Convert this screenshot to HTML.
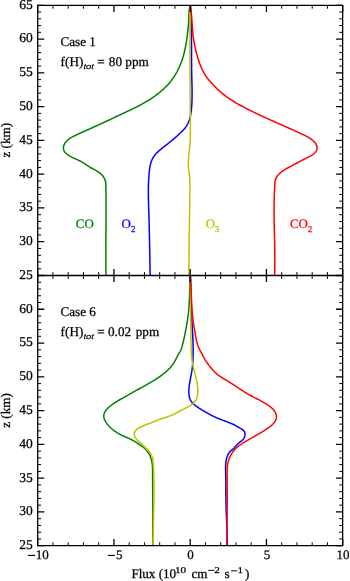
<!DOCTYPE html>
<html><head><meta charset="utf-8"><style>
html,body{margin:0;padding:0;background:#fff;}
body{width:350px;height:581px;overflow:hidden;font-family:"Liberation Serif",serif;}
svg{display:block;}
text{-webkit-font-smoothing:antialiased;text-rendering:geometricPrecision;}
svg{will-change:transform;}
</style></head><body>
<svg width="350" height="581" viewBox="0 0 350 581"><defs><clipPath id="ct"><rect x="37.70" y="5.30" width="304.95" height="270.20"/></clipPath><clipPath id="cb"><rect x="37.70" y="275.50" width="304.95" height="270.20"/></clipPath></defs><g clip-path="url(#ct)"><path d="M190.10 5.30L189.86 6.27 189.65 7.25 189.48 8.24 189.33 9.22 189.21 10.21 189.12 11.20 189.04 12.19 188.98 13.19 188.94 14.19 188.90 15.19 188.87 16.18 188.84 17.18 188.81 18.18 188.78 19.18 188.74 20.18 188.69 21.18 188.64 22.17 188.57 23.17 188.50 24.16 188.42 25.15 188.34 26.15 188.24 27.14 188.14 28.13 188.04 29.12 187.93 30.11 187.81 31.10 187.70 32.09 187.57 33.08 187.45 34.07 187.32 35.06 187.19 36.05 187.05 37.04 186.91 38.03 186.77 39.02 186.63 40.01 186.48 40.99 186.32 41.98 186.17 42.97 186.00 43.95 185.83 44.94 185.65 45.92 185.47 46.90 185.28 47.88 185.08 48.86 184.87 49.83 184.66 50.81 184.43 51.78 184.20 52.75 183.95 53.71 183.70 54.68 183.43 55.64 183.16 56.60 182.87 57.55 182.58 58.50 182.27 59.45 181.95 60.39 181.62 61.33 181.28 62.27 180.93 63.20 180.56 64.13 180.19 65.05 179.80 65.97 179.40 66.88 178.99 67.79 178.56 68.69 178.13 69.59 177.68 70.48 177.22 71.37 176.74 72.25 176.25 73.12 175.75 73.99 175.24 74.85 174.71 75.70 174.18 76.54 173.62 77.38 173.06 78.20 172.48 79.02 171.89 79.82 171.29 80.62 170.67 81.40 170.05 82.17 169.41 82.94 168.76 83.69 168.09 84.43 167.42 85.17 166.74 85.89 166.04 86.60 165.34 87.31 164.63 88.00 163.90 88.69 163.17 89.37 162.43 90.03 161.68 90.69 160.93 91.34 160.16 91.99 159.39 92.62 158.61 93.25 157.83 93.86 157.03 94.47 156.23 95.07 155.43 95.67 154.62 96.25 153.81 96.83 152.99 97.40 152.16 97.97 151.34 98.52 150.50 99.07 149.66 99.62 148.82 100.15 147.98 100.68 147.12 101.20 146.27 101.71 145.41 102.21 144.55 102.71 143.68 103.20 142.81 103.69 141.94 104.16 141.06 104.63 140.18 105.10 139.29 105.56 138.41 106.01 137.52 106.46 136.63 106.91 135.73 107.35 134.84 107.79 133.94 108.23 133.05 108.67 132.15 109.10 131.25 109.53 130.35 109.96 129.45 110.39 128.54 110.82 127.64 111.25 126.74 111.67 125.84 112.10 124.94 112.53 124.04 112.96 123.13 113.39 122.23 113.82 121.33 114.24 120.43 114.67 119.52 115.10 118.62 115.52 117.72 115.95 116.82 116.38 115.91 116.80 115.01 117.23 114.11 117.65 113.20 118.08 112.30 118.50 111.39 118.93 110.49 119.35 109.59 119.77 108.68 120.20 107.78 120.62 106.87 121.04 105.97 121.46 105.06 121.88 104.16 122.30 103.25 122.72 102.35 123.14 101.44 123.56 100.53 123.98 99.63 124.39 98.72 124.81 97.81 125.22 96.91 125.64 96.00 126.05 95.09 126.47 94.19 126.88 93.28 127.29 92.37 127.70 91.46 128.11 90.55 128.52 89.65 128.93 88.74 129.33 87.83 129.74 86.92 130.15 86.01 130.55 85.10 130.95 84.19 131.36 83.28 131.76 82.37 132.16 81.46 132.56 80.55 132.96 79.64 133.37 78.73 133.78 77.83 134.20 76.93 134.63 76.03 135.06 75.13 135.51 74.23 135.96 73.34 136.43 72.46 136.91 71.58 137.41 70.71 137.93 69.85 138.47 69.01 139.04 68.21 139.64 67.44 140.27 66.71 140.95 66.04 141.67 65.42 142.44 64.86 143.27 64.37 144.15 63.97 145.09 63.66 146.05 63.46 147.03 63.39 148.01 63.46 148.98 63.68 149.92 64.06 150.81 64.58 151.66 65.22 152.45 65.94 153.20 66.70 153.89 67.49 154.53 68.31 155.13 69.14 155.68 69.99 156.20 70.86 156.69 71.74 157.15 72.63 157.59 73.53 158.02 74.44 158.44 75.35 158.85 76.26 159.26 77.18 159.68 78.08 160.10 78.99 160.54 79.89 160.99 80.78 161.45 81.66 161.92 82.52 162.41 83.38 162.92 84.22 163.44 85.05 163.98 85.87 164.53 86.69 165.08 87.51 165.63 88.33 166.18 89.17 166.71 90.01 167.24 90.88 167.74 91.76 168.24 92.65 168.72 93.54 169.20 94.43 169.69 95.32 170.17 96.20 170.67 97.07 171.18 97.93 171.70 98.76 172.25 99.56 172.83 100.34 173.44 101.08 174.09 101.79 174.77 102.45 175.50 103.06 176.28 103.63 177.11 104.13 177.97 104.58 178.87 104.96 179.79 105.27 180.74 105.51 181.71 105.68 182.69 105.77 183.69 105.83 184.69 105.85 185.69 105.87 186.69 105.89 187.70 105.90 188.70 105.92 189.70 105.93 190.70 105.94 191.71 105.95 192.71 105.97 193.71 105.98 194.71 105.99 195.71 105.99 196.71 106.00 197.71 106.01 198.71 106.01 199.71 106.02 200.71 106.02 201.71 106.03 202.71 106.03 203.71 106.03 204.70 106.04 205.70 106.04 206.70 106.04 207.70 106.04 208.69 106.04 209.69 106.04 210.69 106.04 211.68 106.03 212.68 106.03 213.68 106.03 214.67 106.03 215.67 106.02 216.67 106.02 217.66 106.01 218.66 106.01 219.65 106.01 220.65 106.00 221.64 105.99 222.64 105.99 223.63 105.98 224.63 105.98 225.62 105.97 226.62 105.97 227.61 105.96 228.61 105.95 229.60 105.95 230.60 105.94 231.59 105.93 232.59 105.93 233.58 105.92 234.58 105.91 235.57 105.91 236.57 105.90 237.56 105.89 238.56 105.89 239.55 105.88 240.55 105.88 241.55 105.87 242.54 105.87 243.54 105.86 244.53 105.86 245.53 105.85 246.52 105.85 247.52 105.84 248.52 105.84 249.51 105.84 250.51 105.83 251.51 105.83 252.50 105.83 253.50 105.83 254.50 105.83 255.49 105.83 256.49 105.83 257.49 105.83 258.49 105.83 259.49 105.83 260.48 105.83 261.48 105.84 262.48 105.84 263.48 105.85 264.48 105.85 265.48 105.86 266.48 105.86 267.48 105.87 268.48 105.88 269.49 105.89 270.49 105.90 271.49 105.91 272.49 105.92 273.49 105.94 274.50 105.95 275.50" fill="none" stroke="#008000" stroke-width="1.50" stroke-linejoin="round"/><path d="M190.41 5.30L190.48 6.30 190.55 7.29 190.61 8.29 190.67 9.28 190.73 10.28 190.79 11.28 190.84 12.27 190.89 13.27 190.94 14.27 190.98 15.26 191.03 16.26 191.07 17.26 191.10 18.25 191.14 19.25 191.17 20.25 191.21 21.25 191.24 22.24 191.26 23.24 191.29 24.24 191.32 25.23 191.34 26.23 191.36 27.23 191.38 28.23 191.40 29.22 191.41 30.22 191.43 31.22 191.44 32.22 191.46 33.21 191.47 34.21 191.48 35.21 191.49 36.21 191.50 37.21 191.50 38.20 191.51 39.20 191.52 40.20 191.52 41.20 191.53 42.19 191.53 43.19 191.53 44.19 191.54 45.19 191.54 46.19 191.54 47.18 191.54 48.18 191.55 49.18 191.55 50.18 191.55 51.18 191.55 52.17 191.55 53.17 191.55 54.17 191.56 55.17 191.56 56.17 191.56 57.16 191.56 58.16 191.57 59.16 191.57 60.16 191.58 61.16 191.58 62.15 191.59 63.15 191.60 64.15 191.60 65.15 191.61 66.15 191.62 67.14 191.63 68.14 191.64 69.14 191.66 70.14 191.67 71.14 191.69 72.13 191.70 73.13 191.72 74.13 191.74 75.13 191.76 76.13 191.79 77.12 191.81 78.12 191.83 79.12 191.86 80.12 191.88 81.12 191.91 82.11 191.93 83.11 191.96 84.11 191.98 85.11 192.00 86.11 192.02 87.10 192.04 88.10 192.05 89.10 192.07 90.10 192.08 91.09 192.08 92.09 192.09 93.09 192.09 94.08 192.09 95.08 192.08 96.08 192.07 97.08 192.05 98.07 192.03 99.07 192.01 100.07 191.97 101.06 191.94 102.06 191.89 103.05 191.84 104.05 191.78 105.05 191.72 106.04 191.64 107.04 191.55 108.03 191.46 109.03 191.35 110.02 191.24 111.01 191.11 112.00 190.96 112.99 190.80 113.98 190.63 114.96 190.43 115.94 190.21 116.92 189.96 117.88 189.69 118.84 189.39 119.79 189.05 120.73 188.69 121.66 188.30 122.58 187.87 123.48 187.41 124.37 186.92 125.23 186.40 126.08 185.84 126.91 185.26 127.71 184.65 128.49 184.01 129.26 183.34 130.00 182.66 130.73 181.97 131.44 181.25 132.14 180.53 132.83 179.80 133.52 179.07 134.20 178.33 134.87 177.59 135.54 176.85 136.21 176.10 136.87 175.35 137.53 174.60 138.18 173.84 138.83 173.08 139.48 172.32 140.12 171.55 140.75 170.78 141.39 170.01 142.01 169.23 142.64 168.45 143.26 167.67 143.88 166.88 144.49 166.10 145.11 165.31 145.72 164.52 146.33 163.73 146.94 162.94 147.55 162.16 148.17 161.38 148.80 160.61 149.44 159.84 150.08 159.09 150.74 158.34 151.41 157.61 152.10 156.89 152.80 156.20 153.52 155.53 154.26 154.89 155.02 154.29 155.81 153.72 156.62 153.20 157.46 152.71 158.32 152.27 159.21 151.86 160.11 151.50 161.03 151.16 161.97 150.86 162.92 150.59 163.88 150.36 164.85 150.14 165.82 149.96 166.81 149.79 167.79 149.64 168.78 149.51 169.78 149.39 170.77 149.28 171.77 149.18 172.77 149.09 173.76 149.00 174.76 148.92 175.76 148.84 176.75 148.77 177.75 148.71 178.75 148.65 179.74 148.60 180.74 148.55 181.74 148.51 182.73 148.48 183.73 148.45 184.73 148.42 185.73 148.40 186.72 148.38 187.72 148.37 188.72 148.36 189.71 148.35 190.71 148.35 191.71 148.35 192.70 148.36 193.70 148.36 194.70 148.37 195.69 148.39 196.69 148.40 197.69 148.42 198.68 148.44 199.68 148.47 200.68 148.49 201.68 148.52 202.67 148.54 203.67 148.57 204.67 148.60 205.66 148.63 206.66 148.67 207.66 148.70 208.66 148.73 209.65 148.76 210.65 148.80 211.65 148.83 212.64 148.86 213.64 148.89 214.64 148.93 215.64 148.96 216.63 148.99 217.63 149.02 218.63 149.04 219.63 149.07 220.62 149.10 221.62 149.13 222.62 149.15 223.62 149.18 224.61 149.20 225.61 149.23 226.61 149.25 227.61 149.28 228.61 149.30 229.60 149.32 230.60 149.34 231.60 149.37 232.60 149.39 233.60 149.41 234.59 149.43 235.59 149.45 236.59 149.47 237.59 149.49 238.58 149.51 239.58 149.53 240.58 149.55 241.58 149.57 242.58 149.58 243.57 149.60 244.57 149.62 245.57 149.64 246.57 149.66 247.57 149.68 248.56 149.69 249.56 149.71 250.56 149.73 251.56 149.75 252.56 149.77 253.55 149.78 254.55 149.80 255.55 149.82 256.55 149.84 257.54 149.86 258.54 149.87 259.54 149.89 260.54 149.91 261.54 149.93 262.53 149.95 263.53 149.97 264.53 149.99 265.53 150.01 266.52 150.03 267.52 150.05 268.52 150.07 269.52 150.09 270.51 150.11 271.51 150.14 272.51 150.16 273.50 150.18 274.50 150.21 275.50" fill="none" stroke="#0000ff" stroke-width="1.50" stroke-linejoin="round"/><path d="M190.12 5.30L190.11 6.30 190.10 7.30 190.09 8.29 190.08 9.29 190.07 10.29 190.06 11.29 190.05 12.28 190.04 13.28 190.03 14.28 190.03 15.28 190.02 16.27 190.01 17.27 190.00 18.27 190.00 19.27 189.99 20.26 189.99 21.26 189.98 22.26 189.98 23.26 189.97 24.26 189.97 25.25 189.96 26.25 189.96 27.25 189.96 28.25 189.96 29.24 189.95 30.24 189.95 31.24 189.95 32.24 189.95 33.23 189.94 34.23 189.94 35.23 189.94 36.23 189.94 37.23 189.94 38.22 189.94 39.22 189.94 40.22 189.94 41.22 189.94 42.21 189.94 43.21 189.94 44.21 189.94 45.21 189.95 46.21 189.95 47.20 189.95 48.20 189.95 49.20 189.95 50.20 189.96 51.19 189.96 52.19 189.96 53.19 189.96 54.19 189.97 55.18 189.97 56.18 189.97 57.18 189.98 58.18 189.98 59.18 189.99 60.17 189.99 61.17 189.99 62.17 190.00 63.17 190.00 64.16 190.01 65.16 190.01 66.16 190.02 67.16 190.02 68.16 190.03 69.15 190.03 70.15 190.04 71.15 190.04 72.15 190.05 73.14 190.06 74.14 190.06 75.14 190.07 76.14 190.07 77.14 190.08 78.13 190.09 79.13 190.09 80.13 190.10 81.13 190.10 82.12 190.11 83.12 190.12 84.12 190.12 85.12 190.13 86.11 190.14 87.11 190.14 88.11 190.15 89.11 190.16 90.11 190.17 91.10 190.17 92.10 190.18 93.10 190.19 94.10 190.19 95.09 190.20 96.09 190.21 97.09 190.21 98.09 190.22 99.08 190.23 100.08 190.23 101.08 190.24 102.08 190.25 103.07 190.25 104.07 190.26 105.07 190.27 106.07 190.27 107.07 190.28 108.06 190.29 109.06 190.29 110.06 190.30 111.06 190.31 112.05 190.31 113.05 190.32 114.05 190.33 115.05 190.33 116.04 190.34 117.04 190.34 118.04 190.35 119.04 190.36 120.03 190.36 121.03 190.37 122.03 190.37 123.03 190.38 124.02 190.38 125.02 190.39 126.02 190.39 127.02 190.40 128.01 190.40 129.01 190.40 130.01 190.40 131.01 190.39 132.00 190.38 133.00 190.37 134.00 190.36 134.99 190.34 135.99 190.31 136.99 190.28 137.98 190.25 138.98 190.21 139.98 190.16 140.97 190.11 141.97 190.05 142.97 189.98 143.96 189.90 144.96 189.82 145.95 189.72 146.95 189.62 147.94 189.52 148.94 189.41 149.93 189.29 150.93 189.18 151.92 189.07 152.92 188.96 153.91 188.86 154.91 188.76 155.90 188.66 156.90 188.58 157.89 188.50 158.88 188.44 159.88 188.39 160.87 188.36 161.87 188.34 162.86 188.34 163.85 188.36 164.85 188.40 165.84 188.45 166.84 188.52 167.83 188.61 168.82 188.70 169.82 188.81 170.81 188.92 171.80 189.03 172.79 189.15 173.79 189.27 174.78 189.39 175.77 189.50 176.76 189.60 177.75 189.69 178.75 189.77 179.74 189.83 180.74 189.88 181.73 189.91 182.73 189.94 183.72 189.96 184.72 189.97 185.71 189.97 186.71 189.97 187.71 189.96 188.70 189.95 189.70 189.94 190.70 189.92 191.70 189.91 192.69 189.89 193.69 189.88 194.69 189.86 195.69 189.84 196.68 189.83 197.68 189.81 198.68 189.80 199.68 189.78 200.68 189.76 201.67 189.75 202.67 189.73 203.67 189.71 204.67 189.70 205.66 189.68 206.66 189.67 207.66 189.65 208.66 189.63 209.65 189.62 210.65 189.60 211.65 189.59 212.65 189.57 213.65 189.55 214.64 189.54 215.64 189.52 216.64 189.51 217.64 189.49 218.63 189.47 219.63 189.46 220.63 189.44 221.63 189.43 222.62 189.41 223.62 189.40 224.62 189.38 225.62 189.37 226.62 189.35 227.61 189.34 228.61 189.32 229.61 189.31 230.61 189.29 231.60 189.28 232.60 189.27 233.60 189.25 234.60 189.24 235.59 189.22 236.59 189.21 237.59 189.20 238.59 189.18 239.59 189.17 240.58 189.16 241.58 189.14 242.58 189.13 243.58 189.12 244.57 189.11 245.57 189.10 246.57 189.09 247.57 189.07 248.56 189.06 249.56 189.05 250.56 189.04 251.56 189.03 252.55 189.02 253.55 189.01 254.55 189.00 255.55 188.99 256.54 188.99 257.54 188.98 258.54 188.97 259.54 188.96 260.53 188.96 261.53 188.95 262.53 188.94 263.53 188.94 264.52 188.93 265.52 188.93 266.52 188.92 267.52 188.92 268.52 188.91 269.51 188.91 270.51 188.91 271.51 188.90 272.51 188.90 273.50 188.90 274.50 188.90 275.50" fill="none" stroke="#bfbf00" stroke-width="1.50" stroke-linejoin="round"/><path d="M190.33 5.30L190.49 6.28 190.63 7.27 190.77 8.25 190.90 9.24 191.02 10.23 191.13 11.22 191.24 12.21 191.33 13.20 191.42 14.19 191.51 15.19 191.59 16.18 191.67 17.18 191.74 18.17 191.81 19.17 191.88 20.17 191.94 21.16 192.01 22.16 192.07 23.16 192.14 24.15 192.20 25.15 192.27 26.15 192.34 27.14 192.41 28.14 192.49 29.13 192.57 30.13 192.65 31.12 192.74 32.12 192.84 33.11 192.94 34.10 193.05 35.09 193.17 36.08 193.29 37.07 193.43 38.06 193.57 39.04 193.72 40.03 193.88 41.01 194.05 41.99 194.22 42.97 194.40 43.95 194.59 44.93 194.79 45.91 195.00 46.88 195.21 47.86 195.43 48.83 195.65 49.80 195.89 50.77 196.13 51.74 196.38 52.71 196.63 53.67 196.90 54.64 197.17 55.60 197.44 56.56 197.73 57.52 198.02 58.48 198.31 59.44 198.62 60.39 198.93 61.34 199.26 62.29 199.59 63.23 199.94 64.17 200.29 65.10 200.66 66.03 201.04 66.95 201.43 67.87 201.84 68.77 202.26 69.67 202.70 70.56 203.15 71.45 203.62 72.32 204.11 73.19 204.61 74.04 205.13 74.88 205.67 75.72 206.23 76.54 206.81 77.35 207.41 78.15 208.02 78.94 208.64 79.72 209.28 80.49 209.93 81.25 210.59 82.00 211.26 82.75 211.94 83.49 212.62 84.22 213.31 84.95 214.01 85.67 214.71 86.39 215.41 87.10 216.12 87.80 216.83 88.50 217.55 89.19 218.28 89.87 219.01 90.55 219.75 91.21 220.49 91.87 221.24 92.53 222.00 93.17 222.76 93.80 223.54 94.43 224.32 95.04 225.11 95.65 225.90 96.24 226.71 96.83 227.52 97.41 228.34 97.98 229.16 98.54 229.99 99.09 230.83 99.64 231.67 100.18 232.51 100.71 233.36 101.24 234.22 101.76 235.07 102.27 235.93 102.78 236.80 103.29 237.66 103.79 238.53 104.28 239.40 104.77 240.27 105.26 241.15 105.74 242.02 106.22 242.90 106.69 243.78 107.17 244.66 107.63 245.55 108.10 246.43 108.56 247.32 109.01 248.21 109.47 249.10 109.92 249.99 110.36 250.88 110.81 251.77 111.25 252.67 111.69 253.56 112.13 254.46 112.56 255.36 112.99 256.26 113.42 257.16 113.85 258.06 114.27 258.96 114.70 259.87 115.12 260.77 115.54 261.68 115.96 262.58 116.37 263.49 116.79 264.39 117.20 265.30 117.62 266.21 118.03 267.12 118.44 268.03 118.85 268.94 119.26 269.85 119.67 270.76 120.08 271.67 120.48 272.58 120.89 273.49 121.30 274.40 121.70 275.32 122.11 276.23 122.51 277.14 122.92 278.05 123.32 278.96 123.73 279.87 124.13 280.79 124.54 281.70 124.94 282.61 125.35 283.52 125.76 284.43 126.16 285.34 126.57 286.26 126.98 287.17 127.38 288.08 127.79 288.99 128.20 289.90 128.61 290.80 129.02 291.71 129.43 292.62 129.84 293.53 130.26 294.44 130.67 295.35 131.08 296.25 131.50 297.16 131.91 298.07 132.32 298.98 132.74 299.88 133.15 300.79 133.57 301.70 133.98 302.61 134.39 303.52 134.81 304.42 135.23 305.32 135.66 306.21 136.11 307.08 136.58 307.94 137.06 308.78 137.58 309.61 138.12 310.43 138.69 311.24 139.27 312.05 139.88 312.84 140.51 313.62 141.18 314.36 141.89 315.05 142.65 315.66 143.48 316.19 144.36 316.62 145.29 316.92 146.25 317.10 147.21 317.13 148.17 317.00 149.12 316.71 150.03 316.29 150.90 315.76 151.74 315.12 152.54 314.41 153.28 313.63 153.98 312.80 154.62 311.95 155.19 311.09 155.72 310.21 156.19 309.32 156.64 308.43 157.07 307.54 157.50 306.65 157.94 305.76 158.38 304.88 158.82 303.99 159.27 303.11 159.73 302.23 160.19 301.35 160.65 300.47 161.11 299.59 161.58 298.72 162.05 297.84 162.53 296.96 163.00 296.08 163.48 295.21 163.95 294.33 164.43 293.45 164.91 292.57 165.39 291.69 165.86 290.81 166.34 289.93 166.81 289.05 167.28 288.17 167.76 287.29 168.23 286.41 168.71 285.54 169.20 284.68 169.71 283.84 170.23 283.01 170.77 282.19 171.34 281.40 171.93 280.63 172.55 279.89 173.21 279.17 173.90 278.48 174.64 277.83 175.42 277.23 176.24 276.67 177.09 276.19 177.98 275.77 178.89 275.44 179.83 275.20 180.79 275.05 181.77 274.95 182.75 274.88 183.74 274.81 184.74 274.75 185.73 274.69 186.72 274.63 187.71 274.58 188.71 274.53 189.70 274.48 190.69 274.43 191.69 274.39 192.68 274.35 193.68 274.32 194.67 274.29 195.67 274.26 196.66 274.23 197.66 274.20 198.65 274.18 199.65 274.16 200.65 274.15 201.64 274.13 202.64 274.12 203.64 274.11 204.63 274.10 205.63 274.09 206.63 274.09 207.62 274.08 208.62 274.08 209.62 274.09 210.62 274.09 211.62 274.09 212.61 274.10 213.61 274.11 214.61 274.11 215.61 274.12 216.61 274.14 217.61 274.15 218.60 274.16 219.60 274.18 220.60 274.19 221.60 274.21 222.60 274.23 223.60 274.24 224.60 274.26 225.60 274.28 226.60 274.30 227.60 274.32 228.60 274.34 229.59 274.37 230.59 274.39 231.59 274.41 232.59 274.43 233.59 274.45 234.59 274.48 235.59 274.50 236.59 274.52 237.59 274.54 238.59 274.57 239.59 274.59 240.59 274.61 241.59 274.63 242.59 274.65 243.59 274.67 244.59 274.69 245.58 274.71 246.58 274.72 247.58 274.74 248.58 274.75 249.58 274.77 250.58 274.78 251.58 274.79 252.58 274.81 253.57 274.82 254.57 274.82 255.57 274.83 256.57 274.84 257.57 274.84 258.56 274.84 259.56 274.84 260.56 274.84 261.56 274.84 262.55 274.83 263.55 274.83 264.55 274.82 265.54 274.81 266.54 274.79 267.54 274.78 268.53 274.76 269.53 274.74 270.52 274.72 271.52 274.69 272.52 274.66 273.51 274.63 274.51 274.60 275.50" fill="none" stroke="#ff0000" stroke-width="1.50" stroke-linejoin="round"/></g><g clip-path="url(#cb)"><path d="M190.00 275.50L189.97 276.50 189.95 277.49 189.92 278.49 189.90 279.48 189.87 280.48 189.85 281.48 189.83 282.47 189.81 283.47 189.79 284.47 189.77 285.46 189.75 286.46 189.73 287.46 189.71 288.46 189.69 289.45 189.67 290.45 189.65 291.45 189.63 292.45 189.60 293.44 189.57 294.44 189.54 295.44 189.51 296.44 189.48 297.43 189.44 298.43 189.40 299.42 189.35 300.42 189.31 301.42 189.25 302.41 189.20 303.41 189.14 304.40 189.07 305.40 189.00 306.39 188.93 307.39 188.85 308.38 188.76 309.37 188.67 310.36 188.58 311.36 188.47 312.35 188.36 313.34 188.25 314.33 188.13 315.32 188.00 316.31 187.87 317.30 187.73 318.28 187.59 319.27 187.44 320.26 187.29 321.24 187.14 322.23 186.98 323.21 186.81 324.20 186.64 325.18 186.47 326.16 186.30 327.14 186.12 328.13 185.93 329.11 185.75 330.08 185.56 331.06 185.37 332.04 185.18 333.02 184.98 333.99 184.78 334.97 184.58 335.95 184.37 336.92 184.16 337.89 183.95 338.87 183.73 339.84 183.50 340.81 183.27 341.79 183.04 342.76 182.80 343.73 182.55 344.70 182.29 345.67 182.02 346.64 181.72 347.59 181.40 348.54 181.04 349.46 180.65 350.37 180.22 351.26 179.75 352.13 179.25 352.99 178.74 353.84 178.23 354.70 177.74 355.57 177.26 356.45 176.80 357.34 176.35 358.24 175.90 359.14 175.44 360.03 174.97 360.92 174.49 361.79 173.98 362.65 173.44 363.49 172.88 364.30 172.29 365.11 171.68 365.89 171.05 366.66 170.40 367.41 169.73 368.14 169.04 368.86 168.34 369.57 167.62 370.26 166.88 370.93 166.14 371.60 165.38 372.25 164.61 372.89 163.83 373.52 163.04 374.14 162.25 374.75 161.45 375.35 160.64 375.94 159.83 376.52 159.02 377.09 158.19 377.65 157.37 378.21 156.53 378.75 155.70 379.30 154.86 379.83 154.01 380.36 153.16 380.88 152.31 381.40 151.46 381.91 150.60 382.42 149.74 382.92 148.88 383.42 148.01 383.92 147.14 384.41 146.27 384.90 145.40 385.39 144.53 385.87 143.66 386.36 142.79 386.84 141.91 387.32 141.04 387.80 140.17 388.28 139.29 388.77 138.42 389.25 137.55 389.73 136.68 390.22 135.81 390.70 134.94 391.19 134.07 391.68 133.20 392.17 132.33 392.65 131.47 393.14 130.60 393.63 129.73 394.12 128.86 394.61 127.99 395.10 127.13 395.59 126.26 396.08 125.39 396.57 124.52 397.06 123.65 397.55 122.78 398.04 121.91 398.53 121.05 399.02 120.18 399.52 119.31 400.02 118.45 400.52 117.60 401.03 116.75 401.55 115.90 402.07 115.06 402.61 114.23 403.16 113.41 403.72 112.60 404.29 111.79 404.88 111.00 405.48 110.22 406.11 109.45 406.74 108.69 407.40 107.96 408.08 107.24 408.79 106.56 409.53 105.93 410.31 105.36 411.13 104.85 412.00 104.42 412.92 104.09 413.87 103.87 414.84 103.77 415.82 103.80 416.80 103.94 417.77 104.19 418.72 104.55 419.64 104.98 420.54 105.47 421.42 106.00 422.29 106.57 423.13 107.17 423.95 107.80 424.74 108.45 425.51 109.12 426.26 109.82 426.98 110.53 427.68 111.26 428.36 112.00 429.01 112.77 429.65 113.55 430.26 114.34 430.85 115.15 431.43 115.97 431.98 116.81 432.52 117.65 433.04 118.51 433.54 119.38 434.03 120.26 434.50 121.14 434.96 122.04 435.40 122.94 435.83 123.85 436.25 124.76 436.66 125.68 437.06 126.59 437.47 127.51 437.87 128.43 438.27 129.34 438.68 130.24 439.09 131.15 439.52 132.04 439.96 132.92 440.42 133.79 440.89 134.65 441.39 135.50 441.90 136.34 442.44 137.17 442.98 138.01 443.53 138.84 444.09 139.68 444.64 140.52 445.20 141.34 445.77 142.16 446.35 142.95 446.95 143.73 447.58 144.48 448.23 145.21 448.91 145.90 449.62 146.56 450.36 147.19 451.13 147.78 451.93 148.34 452.75 148.87 453.59 149.35 454.46 149.80 455.36 150.20 456.27 150.57 457.20 150.91 458.15 151.21 459.10 151.49 460.06 151.73 461.03 151.93 462.00 152.09 462.97 152.23 463.95 152.34 464.94 152.42 465.93 152.49 466.92 152.54 467.91 152.57 468.91 152.59 469.91 152.60 470.91 152.61 471.91 152.61 472.91 152.60 473.91 152.60 474.91 152.59 475.91 152.59 476.91 152.59 477.91 152.59 478.91 152.60 479.91 152.60 480.91 152.61 481.91 152.62 482.91 152.62 483.90 152.63 484.90 152.64 485.90 152.65 486.89 152.67 487.89 152.68 488.89 152.69 489.88 152.70 490.88 152.71 491.87 152.73 492.87 152.74 493.86 152.75 494.86 152.76 495.86 152.77 496.85 152.78 497.85 152.79 498.84 152.80 499.84 152.81 500.83 152.81 501.83 152.82 502.83 152.82 503.82 152.83 504.82 152.83 505.81 152.83 506.81 152.83 507.81 152.83 508.81 152.83 509.80 152.83 510.80 152.83 511.80 152.83 512.79 152.82 513.79 152.82 514.79 152.82 515.79 152.81 516.78 152.81 517.78 152.81 518.78 152.80 519.78 152.80 520.78 152.79 521.77 152.79 522.77 152.78 523.77 152.78 524.77 152.78 525.76 152.77 526.76 152.77 527.76 152.76 528.76 152.76 529.75 152.76 530.75 152.76 531.75 152.75 532.75 152.75 533.74 152.75 534.74 152.75 535.74 152.75 536.73 152.76 537.73 152.76 538.73 152.76 539.72 152.76 540.72 152.77 541.72 152.78 542.71 152.78 543.71 152.79 544.70 152.80 545.70" fill="none" stroke="#008000" stroke-width="1.50" stroke-linejoin="round"/><path d="M190.40 275.50L190.44 276.50 190.48 277.49 190.52 278.49 190.55 279.49 190.59 280.48 190.63 281.48 190.66 282.48 190.69 283.48 190.73 284.47 190.76 285.47 190.79 286.47 190.82 287.47 190.85 288.47 190.88 289.47 190.90 290.46 190.93 291.46 190.96 292.46 190.99 293.46 191.01 294.46 191.04 295.46 191.07 296.46 191.09 297.46 191.12 298.46 191.14 299.45 191.17 300.45 191.20 301.45 191.23 302.45 191.26 303.45 191.28 304.45 191.31 305.45 191.34 306.45 191.37 307.45 191.41 308.45 191.44 309.44 191.47 310.44 191.51 311.44 191.54 312.44 191.58 313.44 191.62 314.44 191.66 315.43 191.70 316.43 191.74 317.43 191.78 318.43 191.83 319.42 191.88 320.42 191.92 321.42 191.98 322.41 192.03 323.41 192.08 324.41 192.14 325.40 192.19 326.40 192.25 327.39 192.30 328.39 192.36 329.38 192.41 330.38 192.47 331.38 192.53 332.37 192.58 333.37 192.63 334.37 192.68 335.36 192.73 336.36 192.78 337.36 192.83 338.35 192.87 339.35 192.92 340.35 192.96 341.35 192.99 342.34 193.03 343.34 193.06 344.34 193.08 345.34 193.10 346.34 193.12 347.34 193.14 348.34 193.15 349.34 193.15 350.35 193.15 351.35 193.15 352.35 193.14 353.35 193.12 354.35 193.10 355.35 193.07 356.35 193.04 357.35 193.00 358.35 192.96 359.35 192.90 360.35 192.84 361.34 192.78 362.34 192.70 363.34 192.62 364.33 192.53 365.32 192.43 366.32 192.32 367.31 192.21 368.30 192.09 369.28 191.95 370.27 191.81 371.26 191.66 372.24 191.50 373.22 191.33 374.20 191.15 375.18 190.97 376.16 190.78 377.13 190.58 378.11 190.39 379.08 190.20 380.06 190.01 381.04 189.82 382.02 189.65 383.00 189.48 383.99 189.33 384.97 189.20 385.96 189.08 386.96 188.97 387.96 188.89 388.96 188.84 389.97 188.81 390.99 188.80 392.01 188.83 393.03 188.90 394.05 189.01 395.06 189.17 396.06 189.38 397.04 189.64 397.99 189.96 398.92 190.35 399.82 190.81 400.68 191.34 401.50 191.95 402.28 192.63 403.02 193.35 403.72 194.10 404.39 194.87 405.04 195.66 405.67 196.45 406.28 197.26 406.88 198.08 407.46 198.90 408.02 199.73 408.57 200.57 409.11 201.42 409.64 202.27 410.17 203.12 410.68 203.98 411.20 204.84 411.70 205.70 412.20 206.57 412.70 207.44 413.19 208.31 413.67 209.18 414.15 210.06 414.62 210.95 415.08 211.84 415.53 212.73 415.98 213.62 416.42 214.53 416.84 215.43 417.26 216.34 417.67 217.26 418.06 218.17 418.45 219.10 418.83 220.03 419.19 220.96 419.55 221.89 419.91 222.83 420.25 223.77 420.60 224.71 420.95 225.65 421.29 226.59 421.64 227.52 422.00 228.46 422.35 229.39 422.72 230.32 423.09 231.25 423.47 232.17 423.87 233.08 424.28 233.98 424.71 234.87 425.15 235.74 425.62 236.59 426.11 237.43 426.62 238.27 427.13 239.12 427.65 240.00 428.17 240.91 428.68 241.82 429.20 242.69 429.75 243.47 430.39 244.10 431.12 244.57 431.97 244.87 432.89 245.02 433.88 245.03 434.89 244.89 435.91 244.61 436.90 244.21 437.83 243.68 438.69 243.05 439.46 242.33 440.16 241.56 440.81 240.76 441.44 239.96 442.07 239.18 442.71 238.44 443.39 237.73 444.08 237.03 444.80 236.36 445.52 235.69 446.26 235.02 447.00 234.35 447.74 233.66 448.46 232.93 449.15 232.17 449.80 231.38 450.42 230.60 451.05 229.88 451.73 229.24 452.50 228.68 453.32 228.19 454.21 227.75 455.12 227.38 456.06 227.04 457.01 226.75 457.96 226.50 458.92 226.28 459.89 226.10 460.86 225.95 461.84 225.83 462.82 225.74 463.81 225.67 464.80 225.62 465.80 225.59 466.79 225.58 467.79 225.58 468.80 225.59 469.80 225.61 470.81 225.63 471.81 225.66 472.82 225.69 473.83 225.72 474.83 225.74 475.84 225.76 476.84 225.77 477.84 225.79 478.84 225.80 479.84 225.81 480.84 225.82 481.84 225.82 482.84 225.83 483.84 225.83 484.84 225.83 485.84 225.83 486.83 225.83 487.83 225.83 488.83 225.84 489.82 225.84 490.82 225.84 491.81 225.84 492.81 225.84 493.81 225.85 494.80 225.85 495.80 225.86 496.79 225.87 497.79 225.88 498.78 225.89 499.78 225.91 500.78 225.93 501.77 225.95 502.77 225.97 503.77 226.00 504.76 226.03 505.76 226.06 506.76 226.09 507.76 226.12 508.76 226.16 509.75 226.19 510.75 226.23 511.75 226.27 512.75 226.31 513.75 226.35 514.75 226.39 515.75 226.44 516.75 226.48 517.75 226.52 518.74 226.57 519.74 226.61 520.74 226.65 521.74 226.70 522.74 226.74 523.74 226.78 524.74 226.83 525.74 226.87 526.74 226.91 527.74 226.95 528.74 226.99 529.74 227.03 530.73 227.07 531.73 227.10 532.73 227.14 533.73 227.17 534.73 227.20 535.73 227.23 536.72 227.26 537.72 227.28 538.72 227.31 539.72 227.33 540.71 227.34 541.71 227.36 542.71 227.37 543.70 227.38 544.70 227.39 545.69" fill="none" stroke="#0000ff" stroke-width="1.50" stroke-linejoin="round"/><path d="M190.13 275.49L190.17 276.49 190.21 277.49 190.24 278.49 190.27 279.49 190.30 280.49 190.33 281.49 190.36 282.48 190.39 283.48 190.41 284.48 190.44 285.48 190.46 286.47 190.48 287.47 190.50 288.47 190.52 289.47 190.54 290.46 190.56 291.46 190.57 292.46 190.59 293.45 190.60 294.45 190.61 295.45 190.62 296.44 190.63 297.44 190.64 298.44 190.65 299.43 190.66 300.43 190.67 301.42 190.68 302.42 190.69 303.42 190.69 304.41 190.70 305.41 190.70 306.40 190.71 307.40 190.71 308.40 190.72 309.39 190.72 310.39 190.73 311.38 190.73 312.38 190.73 313.38 190.74 314.37 190.74 315.37 190.74 316.36 190.75 317.36 190.75 318.36 190.75 319.35 190.76 320.35 190.76 321.35 190.77 322.34 190.77 323.34 190.78 324.33 190.78 325.33 190.79 326.33 190.79 327.32 190.80 328.32 190.81 329.32 190.82 330.32 190.83 331.31 190.84 332.31 190.85 333.31 190.86 334.31 190.87 335.30 190.88 336.30 190.90 337.30 190.91 338.30 190.93 339.30 190.94 340.29 190.96 341.29 190.98 342.29 191.00 343.29 191.02 344.29 191.05 345.29 191.07 346.29 191.10 347.29 191.13 348.29 191.17 349.29 191.21 350.29 191.26 351.28 191.31 352.28 191.37 353.28 191.43 354.27 191.51 355.27 191.59 356.26 191.69 357.25 191.79 358.24 191.90 359.23 192.03 360.22 192.16 361.20 192.31 362.19 192.48 363.17 192.65 364.15 192.84 365.13 193.05 366.10 193.26 367.08 193.49 368.05 193.72 369.02 193.96 369.99 194.21 370.96 194.46 371.93 194.71 372.89 194.97 373.86 195.22 374.83 195.47 375.80 195.72 376.77 195.96 377.74 196.19 378.71 196.41 379.68 196.63 380.65 196.83 381.63 197.02 382.61 197.20 383.59 197.36 384.57 197.50 385.55 197.62 386.54 197.72 387.53 197.79 388.53 197.85 389.52 197.87 390.53 197.87 391.53 197.83 392.53 197.75 393.53 197.63 394.52 197.47 395.49 197.25 396.46 196.97 397.41 196.64 398.34 196.24 399.24 195.77 400.12 195.23 400.98 194.62 401.80 193.95 402.57 193.23 403.31 192.47 403.98 191.68 404.60 190.86 405.16 190.02 405.68 189.17 406.18 188.30 406.65 187.42 407.10 186.54 407.56 185.65 408.01 184.76 408.47 183.87 408.92 182.98 409.38 182.09 409.84 181.20 410.30 180.32 410.77 179.44 411.25 178.56 411.72 177.68 412.19 176.80 412.66 175.91 413.13 175.02 413.58 174.13 414.02 173.24 414.46 172.33 414.87 171.42 415.27 170.51 415.65 169.58 416.02 168.65 416.36 167.71 416.70 166.77 417.02 165.83 417.34 164.88 417.65 163.93 417.95 162.98 418.26 162.03 418.57 161.08 418.89 160.14 419.21 159.20 419.55 158.26 419.89 157.33 420.25 156.40 420.62 155.47 420.99 154.55 421.36 153.62 421.74 152.70 422.11 151.77 422.48 150.85 422.84 149.92 423.20 148.99 423.55 148.07 423.90 147.14 424.25 146.22 424.61 145.29 424.98 144.37 425.35 143.45 425.74 142.54 426.14 141.62 426.56 140.72 427.00 139.82 427.47 138.92 427.96 138.04 428.48 137.20 429.05 136.43 429.67 135.73 430.35 135.15 431.10 134.69 431.94 134.39 432.86 134.25 433.87 134.28 434.92 134.47 435.93 134.81 436.87 135.28 437.73 135.86 438.53 136.51 439.28 137.22 440.00 137.96 440.69 138.71 441.38 139.45 442.06 140.19 442.73 140.92 443.41 141.64 444.09 142.37 444.77 143.09 445.45 143.81 446.13 144.53 446.81 145.25 447.50 145.96 448.19 146.66 448.90 147.35 449.62 148.03 450.35 148.69 451.10 149.32 451.88 149.93 452.68 150.50 453.51 151.03 454.36 151.52 455.24 151.94 456.14 152.30 457.07 152.58 458.02 152.79 458.99 152.93 459.97 153.03 460.97 153.12 461.96 153.21 462.96 153.28 463.95 153.35 464.95 153.41 465.94 153.47 466.94 153.52 467.94 153.57 468.93 153.61 469.93 153.65 470.93 153.68 471.92 153.71 472.92 153.74 473.92 153.76 474.91 153.79 475.91 153.81 476.91 153.83 477.91 153.84 478.90 153.86 479.90 153.87 480.90 153.88 481.89 153.90 482.89 153.90 483.89 153.91 484.88 153.92 485.88 153.92 486.88 153.92 487.88 153.93 488.87 153.93 489.87 153.93 490.87 153.92 491.86 153.92 492.86 153.91 493.86 153.91 494.85 153.90 495.85 153.89 496.85 153.88 497.85 153.87 498.84 153.86 499.84 153.85 500.84 153.84 501.83 153.82 502.83 153.81 503.83 153.79 504.82 153.78 505.82 153.76 506.82 153.74 507.82 153.72 508.81 153.70 509.81 153.68 510.81 153.66 511.80 153.64 512.80 153.62 513.80 153.60 514.79 153.58 515.79 153.56 516.79 153.54 517.79 153.51 518.78 153.49 519.78 153.47 520.78 153.45 521.77 153.42 522.77 153.40 523.77 153.38 524.76 153.35 525.76 153.33 526.76 153.31 527.75 153.29 528.75 153.27 529.75 153.24 530.75 153.22 531.74 153.20 532.74 153.18 533.74 153.16 534.73 153.14 535.73 153.12 536.73 153.10 537.72 153.08 538.72 153.06 539.72 153.05 540.71 153.03 541.71 153.02 542.71 153.00 543.71 152.99 544.70 152.97 545.70" fill="none" stroke="#bfbf00" stroke-width="1.50" stroke-linejoin="round"/><path d="M190.29 275.50L190.38 276.50 190.45 277.49 190.53 278.48 190.60 279.48 190.66 280.47 190.73 281.47 190.79 282.46 190.84 283.46 190.89 284.45 190.94 285.45 190.99 286.45 191.04 287.44 191.08 288.44 191.12 289.44 191.16 290.44 191.20 291.44 191.24 292.43 191.28 293.43 191.32 294.43 191.36 295.43 191.40 296.43 191.43 297.42 191.47 298.42 191.52 299.42 191.56 300.42 191.60 301.42 191.65 302.41 191.69 303.41 191.74 304.41 191.79 305.41 191.85 306.40 191.91 307.40 191.97 308.39 192.03 309.39 192.10 310.39 192.18 311.38 192.25 312.37 192.34 313.37 192.42 314.36 192.52 315.35 192.61 316.35 192.72 317.34 192.83 318.33 192.94 319.32 193.06 320.31 193.19 321.29 193.33 322.28 193.47 323.27 193.62 324.25 193.78 325.24 193.94 326.22 194.10 327.21 194.27 328.19 194.44 329.18 194.61 330.16 194.79 331.15 194.95 332.13 195.12 333.12 195.28 334.11 195.45 335.10 195.62 336.08 195.79 337.07 195.97 338.05 196.16 339.03 196.36 340.01 196.58 340.98 196.81 341.95 197.07 342.91 197.35 343.87 197.66 344.82 197.99 345.76 198.34 346.69 198.72 347.61 199.12 348.53 199.55 349.43 200.00 350.32 200.46 351.20 200.94 352.08 201.43 352.95 201.91 353.82 202.39 354.70 202.85 355.59 203.30 356.49 203.75 357.38 204.22 358.26 204.70 359.13 205.21 359.99 205.74 360.82 206.29 361.65 206.86 362.47 207.44 363.27 208.03 364.07 208.63 364.87 209.24 365.67 209.85 366.46 210.48 367.24 211.11 368.02 211.75 368.79 212.41 369.55 213.07 370.29 213.75 371.03 214.45 371.74 215.16 372.44 215.89 373.12 216.63 373.78 217.40 374.41 218.18 375.02 218.98 375.61 219.80 376.19 220.62 376.74 221.46 377.29 222.30 377.82 223.15 378.35 224.01 378.87 224.86 379.39 225.71 379.90 226.57 380.42 227.42 380.94 228.27 381.46 229.12 381.98 229.97 382.51 230.81 383.03 231.66 383.56 232.50 384.10 233.34 384.64 234.18 385.18 235.01 385.73 235.85 386.28 236.68 386.83 237.51 387.38 238.34 387.94 239.17 388.50 240.00 389.05 240.83 389.60 241.67 390.15 242.50 390.69 243.35 391.23 244.19 391.77 245.04 392.29 245.89 392.81 246.75 393.32 247.61 393.82 248.48 394.31 249.35 394.80 250.22 395.28 251.10 395.75 251.98 396.22 252.86 396.69 253.74 397.15 254.63 397.61 255.51 398.07 256.40 398.53 257.28 398.99 258.17 399.46 259.05 399.92 259.93 400.39 260.81 400.87 261.68 401.35 262.55 401.84 263.41 402.33 264.28 402.83 265.13 403.34 265.98 403.87 266.82 404.40 267.66 404.94 268.49 405.50 269.31 406.07 270.11 406.67 270.89 407.29 271.65 407.93 272.38 408.61 273.08 409.32 273.73 410.07 274.35 410.86 274.91 411.70 275.40 412.58 275.80 413.49 276.11 414.45 276.32 415.43 276.41 416.42 276.39 417.41 276.24 418.39 275.99 419.35 275.62 420.27 275.16 421.14 274.62 421.98 274.01 422.78 273.35 423.54 272.66 424.26 271.93 424.95 271.18 425.62 270.41 426.26 269.63 426.88 268.83 427.48 268.02 428.06 267.19 428.63 266.36 429.18 265.52 429.73 264.68 430.26 263.83 430.78 262.97 431.30 262.12 431.81 261.26 432.33 260.41 432.84 259.55 433.35 258.70 433.86 257.84 434.36 256.99 434.87 256.13 435.37 255.28 435.88 254.42 436.38 253.56 436.88 252.70 437.38 251.84 437.88 250.97 438.38 250.11 438.88 249.24 439.38 248.37 439.87 247.49 440.37 246.62 440.87 245.75 441.38 244.89 441.89 244.03 442.40 243.17 442.93 242.33 443.46 241.49 444.01 240.66 444.57 239.85 445.14 239.05 445.73 238.27 446.34 237.50 446.97 236.76 447.62 236.03 448.29 235.33 448.99 234.65 449.71 233.99 450.45 233.36 451.23 232.76 452.02 232.19 452.84 231.64 453.68 231.12 454.54 230.64 455.42 230.18 456.32 229.76 457.23 229.37 458.16 229.01 459.09 228.69 460.04 228.40 461.00 228.15 461.96 227.93 462.93 227.75 463.90 227.59 464.89 227.47 465.87 227.36 466.86 227.28 467.85 227.22 468.85 227.18 469.85 227.14 470.85 227.12 471.85 227.11 472.85 227.11 473.86 227.11 474.86 227.11 475.86 227.11 476.86 227.11 477.86 227.12 478.86 227.12 479.86 227.13 480.85 227.14 481.85 227.15 482.85 227.15 483.85 227.16 484.84 227.17 485.84 227.18 486.84 227.19 487.83 227.20 488.83 227.20 489.83 227.21 490.82 227.22 491.82 227.22 492.82 227.22 493.81 227.22 494.81 227.22 495.81 227.22 496.80 227.22 497.80 227.22 498.80 227.22 499.80 227.21 500.79 227.21 501.79 227.21 502.79 227.20 503.79 227.19 504.78 227.19 505.78 227.18 506.78 227.17 507.78 227.16 508.78 227.16 509.77 227.15 510.77 227.14 511.77 227.13 512.77 227.12 513.77 227.11 514.76 227.10 515.76 227.09 516.76 227.08 517.76 227.07 518.76 227.06 519.76 227.05 520.75 227.04 521.75 227.03 522.75 227.02 523.75 227.01 524.75 227.00 525.75 226.99 526.74 226.98 527.74 226.97 528.74 226.96 529.74 226.95 530.74 226.94 531.73 226.94 532.73 226.93 533.73 226.92 534.73 226.92 535.73 226.91 536.72 226.91 537.72 226.90 538.72 226.90 539.72 226.90 540.71 226.90 541.71 226.90 542.71 226.90 543.71 226.90 544.70 226.90 545.70" fill="none" stroke="#ff0000" stroke-width="1.50" stroke-linejoin="round"/></g><path d="M52.95 5.30L52.95 8.70M52.95 275.50L52.95 272.10M52.95 275.50L52.95 278.90M52.95 545.70L52.95 542.30M68.20 5.30L68.20 8.70M68.20 275.50L68.20 272.10M68.20 275.50L68.20 278.90M68.20 545.70L68.20 542.30M83.45 5.30L83.45 8.70M83.45 275.50L83.45 272.10M83.45 275.50L83.45 278.90M83.45 545.70L83.45 542.30M98.70 5.30L98.70 8.70M98.70 275.50L98.70 272.10M98.70 275.50L98.70 278.90M98.70 545.70L98.70 542.30M129.20 5.30L129.20 8.70M129.20 275.50L129.20 272.10M129.20 275.50L129.20 278.90M129.20 545.70L129.20 542.30M144.45 5.30L144.45 8.70M144.45 275.50L144.45 272.10M144.45 275.50L144.45 278.90M144.45 545.70L144.45 542.30M159.70 5.30L159.70 8.70M159.70 275.50L159.70 272.10M159.70 275.50L159.70 278.90M159.70 545.70L159.70 542.30M174.95 5.30L174.95 8.70M174.95 275.50L174.95 272.10M174.95 275.50L174.95 278.90M174.95 545.70L174.95 542.30M205.45 5.30L205.45 8.70M205.45 275.50L205.45 272.10M205.45 275.50L205.45 278.90M205.45 545.70L205.45 542.30M220.70 5.30L220.70 8.70M220.70 275.50L220.70 272.10M220.70 275.50L220.70 278.90M220.70 545.70L220.70 542.30M235.95 5.30L235.95 8.70M235.95 275.50L235.95 272.10M235.95 275.50L235.95 278.90M235.95 545.70L235.95 542.30M251.20 5.30L251.20 8.70M251.20 275.50L251.20 272.10M251.20 275.50L251.20 278.90M251.20 545.70L251.20 542.30M281.70 5.30L281.70 8.70M281.70 275.50L281.70 272.10M281.70 275.50L281.70 278.90M281.70 545.70L281.70 542.30M296.95 5.30L296.95 8.70M296.95 275.50L296.95 272.10M296.95 275.50L296.95 278.90M296.95 545.70L296.95 542.30M312.20 5.30L312.20 8.70M312.20 275.50L312.20 272.10M312.20 275.50L312.20 278.90M312.20 545.70L312.20 542.30M327.45 5.30L327.45 8.70M327.45 275.50L327.45 272.10M327.45 275.50L327.45 278.90M327.45 545.70L327.45 542.30M37.70 268.75L41.10 268.75M342.65 268.75L339.25 268.75M37.70 538.94L41.10 538.94M342.65 538.94L339.25 538.94M37.70 261.99L41.10 261.99M342.65 261.99L339.25 261.99M37.70 532.19L41.10 532.19M342.65 532.19L339.25 532.19M37.70 255.24L41.10 255.24M342.65 255.24L339.25 255.24M37.70 525.43L41.10 525.43M342.65 525.43L339.25 525.43M37.70 248.48L41.10 248.48M342.65 248.48L339.25 248.48M37.70 518.68L41.10 518.68M342.65 518.68L339.25 518.68M37.70 234.97L41.10 234.97M342.65 234.97L339.25 234.97M37.70 505.17L41.10 505.17M342.65 505.17L339.25 505.17M37.70 228.22L41.10 228.22M342.65 228.22L339.25 228.22M37.70 498.41L41.10 498.41M342.65 498.41L339.25 498.41M37.70 221.46L41.10 221.46M342.65 221.46L339.25 221.46M37.70 491.66L41.10 491.66M342.65 491.66L339.25 491.66M37.70 214.71L41.10 214.71M342.65 214.71L339.25 214.71M37.70 484.90L41.10 484.90M342.65 484.90L339.25 484.90M37.70 201.20L41.10 201.20M342.65 201.20L339.25 201.20M37.70 471.39L41.10 471.39M342.65 471.39L339.25 471.39M37.70 194.44L41.10 194.44M342.65 194.44L339.25 194.44M37.70 464.64L41.10 464.64M342.65 464.64L339.25 464.64M37.70 187.69L41.10 187.69M342.65 187.69L339.25 187.69M37.70 457.88L41.10 457.88M342.65 457.88L339.25 457.88M37.70 180.93L41.10 180.93M342.65 180.93L339.25 180.93M37.70 451.13L41.10 451.13M342.65 451.13L339.25 451.13M37.70 167.42L41.10 167.42M342.65 167.42L339.25 167.42M37.70 437.62L41.10 437.62M342.65 437.62L339.25 437.62M37.70 160.67L41.10 160.67M342.65 160.67L339.25 160.67M37.70 430.87L41.10 430.87M342.65 430.87L339.25 430.87M37.70 153.91L41.10 153.91M342.65 153.91L339.25 153.91M37.70 424.11L41.10 424.11M342.65 424.11L339.25 424.11M37.70 147.16L41.10 147.16M342.65 147.16L339.25 147.16M37.70 417.36L41.10 417.36M342.65 417.36L339.25 417.36M37.70 133.65L41.10 133.65M342.65 133.65L339.25 133.65M37.70 403.85L41.10 403.85M342.65 403.85L339.25 403.85M37.70 126.89L41.10 126.89M342.65 126.89L339.25 126.89M37.70 397.09L41.10 397.09M342.65 397.09L339.25 397.09M37.70 120.13L41.10 120.13M342.65 120.13L339.25 120.13M37.70 390.33L41.10 390.33M342.65 390.33L339.25 390.33M37.70 113.38L41.10 113.38M342.65 113.38L339.25 113.38M37.70 383.58L41.10 383.58M342.65 383.58L339.25 383.58M37.70 99.87L41.10 99.87M342.65 99.87L339.25 99.87M37.70 370.07L41.10 370.07M342.65 370.07L339.25 370.07M37.70 93.11L41.10 93.11M342.65 93.11L339.25 93.11M37.70 363.31L41.10 363.31M342.65 363.31L339.25 363.31M37.70 86.36L41.10 86.36M342.65 86.36L339.25 86.36M37.70 356.56L41.10 356.56M342.65 356.56L339.25 356.56M37.70 79.60L41.10 79.60M342.65 79.60L339.25 79.60M37.70 349.80L41.10 349.80M342.65 349.80L339.25 349.80M37.70 66.09L41.10 66.09M342.65 66.09L339.25 66.09M37.70 336.29L41.10 336.29M342.65 336.29L339.25 336.29M37.70 59.34L41.10 59.34M342.65 59.34L339.25 59.34M37.70 329.54L41.10 329.54M342.65 329.54L339.25 329.54M37.70 52.58L41.10 52.58M342.65 52.58L339.25 52.58M37.70 322.78L41.10 322.78M342.65 322.78L339.25 322.78M37.70 45.83L41.10 45.83M342.65 45.83L339.25 45.83M37.70 316.03L41.10 316.03M342.65 316.03L339.25 316.03M37.70 32.32L41.10 32.32M342.65 32.32L339.25 32.32M37.70 302.52L41.10 302.52M342.65 302.52L339.25 302.52M37.70 25.57L41.10 25.57M342.65 25.57L339.25 25.57M37.70 295.76L41.10 295.76M342.65 295.76L339.25 295.76M37.70 18.81L41.10 18.81M342.65 18.81L339.25 18.81M37.70 289.01L41.10 289.01M342.65 289.01L339.25 289.01M37.70 12.05L41.10 12.05M342.65 12.05L339.25 12.05M37.70 282.25L41.10 282.25M342.65 282.25L339.25 282.25" stroke="#000" stroke-width="1.0" fill="none"/><path d="M37.70 5.30L37.70 11.90M37.70 275.50L37.70 268.90M37.70 275.50L37.70 282.10M37.70 545.70L37.70 539.10M113.95 5.30L113.95 11.90M113.95 275.50L113.95 268.90M113.95 275.50L113.95 282.10M113.95 545.70L113.95 539.10M190.20 5.30L190.20 11.90M190.20 275.50L190.20 268.90M190.20 275.50L190.20 282.10M190.20 545.70L190.20 539.10M266.45 5.30L266.45 11.90M266.45 275.50L266.45 268.90M266.45 275.50L266.45 282.10M266.45 545.70L266.45 539.10M342.70 5.30L342.70 11.90M342.70 275.50L342.70 268.90M342.70 275.50L342.70 282.10M342.70 545.70L342.70 539.10M37.70 275.50L44.30 275.50M342.65 275.50L336.05 275.50M37.70 545.70L44.30 545.70M342.65 545.70L336.05 545.70M37.70 241.72L44.30 241.72M342.65 241.72L336.05 241.72M37.70 511.92L44.30 511.92M342.65 511.92L336.05 511.92M37.70 207.95L44.30 207.95M342.65 207.95L336.05 207.95M37.70 478.15L44.30 478.15M342.65 478.15L336.05 478.15M37.70 174.18L44.30 174.18M342.65 174.18L336.05 174.18M37.70 444.38L44.30 444.38M342.65 444.38L336.05 444.38M37.70 140.40L44.30 140.40M342.65 140.40L336.05 140.40M37.70 410.60L44.30 410.60M342.65 410.60L336.05 410.60M37.70 106.62L44.30 106.62M342.65 106.62L336.05 106.62M37.70 376.82L44.30 376.82M342.65 376.82L336.05 376.82M37.70 72.85L44.30 72.85M342.65 72.85L336.05 72.85M37.70 343.05L44.30 343.05M342.65 343.05L336.05 343.05M37.70 39.07L44.30 39.07M342.65 39.07L336.05 39.07M37.70 309.27L44.30 309.27M342.65 309.27L336.05 309.27M37.70 5.30L44.30 5.30M342.65 5.30L336.05 5.30M37.70 275.50L44.30 275.50M342.65 275.50L336.05 275.50" stroke="#000" stroke-width="1.3" fill="none"/><path d="M37.70 5.30H342.65V545.70H37.70Z M37.70 275.50H342.65" stroke="#000" stroke-width="1.3" fill="none"/><g font-family="Liberation Serif" font-size="13.5" fill="#000" stroke="#000" stroke-width="0.25"><text x="32.8" y="278.85" text-anchor="end">25</text><text x="32.8" y="549.05" text-anchor="end">25</text><text x="32.8" y="245.07" text-anchor="end">30</text><text x="32.8" y="515.27" text-anchor="end">30</text><text x="32.8" y="211.30" text-anchor="end">35</text><text x="32.8" y="481.50" text-anchor="end">35</text><text x="32.8" y="177.53" text-anchor="end">40</text><text x="32.8" y="447.73" text-anchor="end">40</text><text x="32.8" y="143.75" text-anchor="end">45</text><text x="32.8" y="413.95" text-anchor="end">45</text><text x="32.8" y="109.97" text-anchor="end">50</text><text x="32.8" y="380.18" text-anchor="end">50</text><text x="32.8" y="76.20" text-anchor="end">55</text><text x="32.8" y="346.40" text-anchor="end">55</text><text x="32.8" y="42.42" text-anchor="end">60</text><text x="32.8" y="312.62" text-anchor="end">60</text><text x="32.8" y="8.65" text-anchor="end">65</text><text x="35.86" y="559.1" font-size="13">10</text><rect x="27.90" y="554.85" width="7.20" height="1.15" fill="#000" stroke="none"/><text x="115.94" y="559.1" font-size="13">5</text><rect x="107.90" y="554.85" width="6.80" height="1.15" fill="#000" stroke="none"/><text x="187.20" y="559.1" font-size="13">0</text><text x="263.64" y="559.1" font-size="13">5</text><text x="336.56" y="559.1" font-size="13">10</text></g><g font-family="Liberation Serif" font-size="13.1" fill="#000" stroke="#000" stroke-width="0.25"><text x="131.4" y="578.3">Flux (10</text><text transform="translate(174.92 572.80) scale(1.27 1)" font-size="8.8">10</text><text x="191.5" y="578.3">cm</text><rect x="208.1" y="569.85" width="6.3" height="0.95" stroke="none"/><text transform="translate(214.21 572.60) scale(1.27 1)" font-size="8.8">2</text><text x="224.6" y="578.3">s</text><rect x="231.1" y="570.35" width="6.2" height="0.95" stroke="none"/><text transform="translate(237.42 572.90) scale(1.27 1)" font-size="8.8">1</text><text x="244.9" y="578.3">)</text></g><text transform="translate(9.9 140.20) rotate(-90)" font-family="Liberation Serif" font-size="13.2" text-anchor="middle" stroke="#000" stroke-width="0.25">z (km)</text><text transform="translate(9.9 410.40) rotate(-90)" font-family="Liberation Serif" font-size="13.2" text-anchor="middle" stroke="#000" stroke-width="0.25">z (km)</text><g font-family="Liberation Serif" font-size="13.2" fill="#000" stroke="#000" stroke-width="0.25"><text x="60.4" y="46.00">Case 1</text><text x="60.6" y="65.70">f(H)</text><text transform="translate(83.4 68.70) scale(1.25 1)" font-family="Liberation Sans" font-style="italic" font-size="7.6" stroke-width="0.15">tot</text><text x="97.2" y="65.70">=</text><text x="108.80" y="65.70">80</text><text x="125.30" y="65.70">ppm</text></g><g font-family="Liberation Serif" font-size="13.2" fill="#000" stroke="#000" stroke-width="0.25"><text x="60.4" y="316.10">Case 6</text><text x="60.6" y="335.80">f(H)</text><text transform="translate(83.4 338.80) scale(1.25 1)" font-family="Liberation Sans" font-style="italic" font-size="7.6" stroke-width="0.15">tot</text><text x="97.2" y="335.80">=</text><text x="108.00" y="335.80">0.02</text><text x="135.70" y="335.80">ppm</text></g><g font-family="Liberation Serif" font-size="12.9" stroke-width="0.25"><g fill="#008000" stroke="#008000"><text x="75.8" y="227.60">CO</text></g><g fill="#0000ff" stroke="#0000ff"><text x="121.6" y="227.60">O</text><text x="130.9" y="231.50" font-size="9.0">2</text></g><g fill="#bfbf00" stroke="#bfbf00"><text x="205.7" y="227.60">O</text><text x="214.8" y="231.50" font-size="9.0">3</text></g><g fill="#ff0000" stroke="#ff0000"><text x="289.9" y="227.60">CO</text><text x="307.7" y="231.50" font-size="9.0">2</text></g></g></svg>
</body></html>
